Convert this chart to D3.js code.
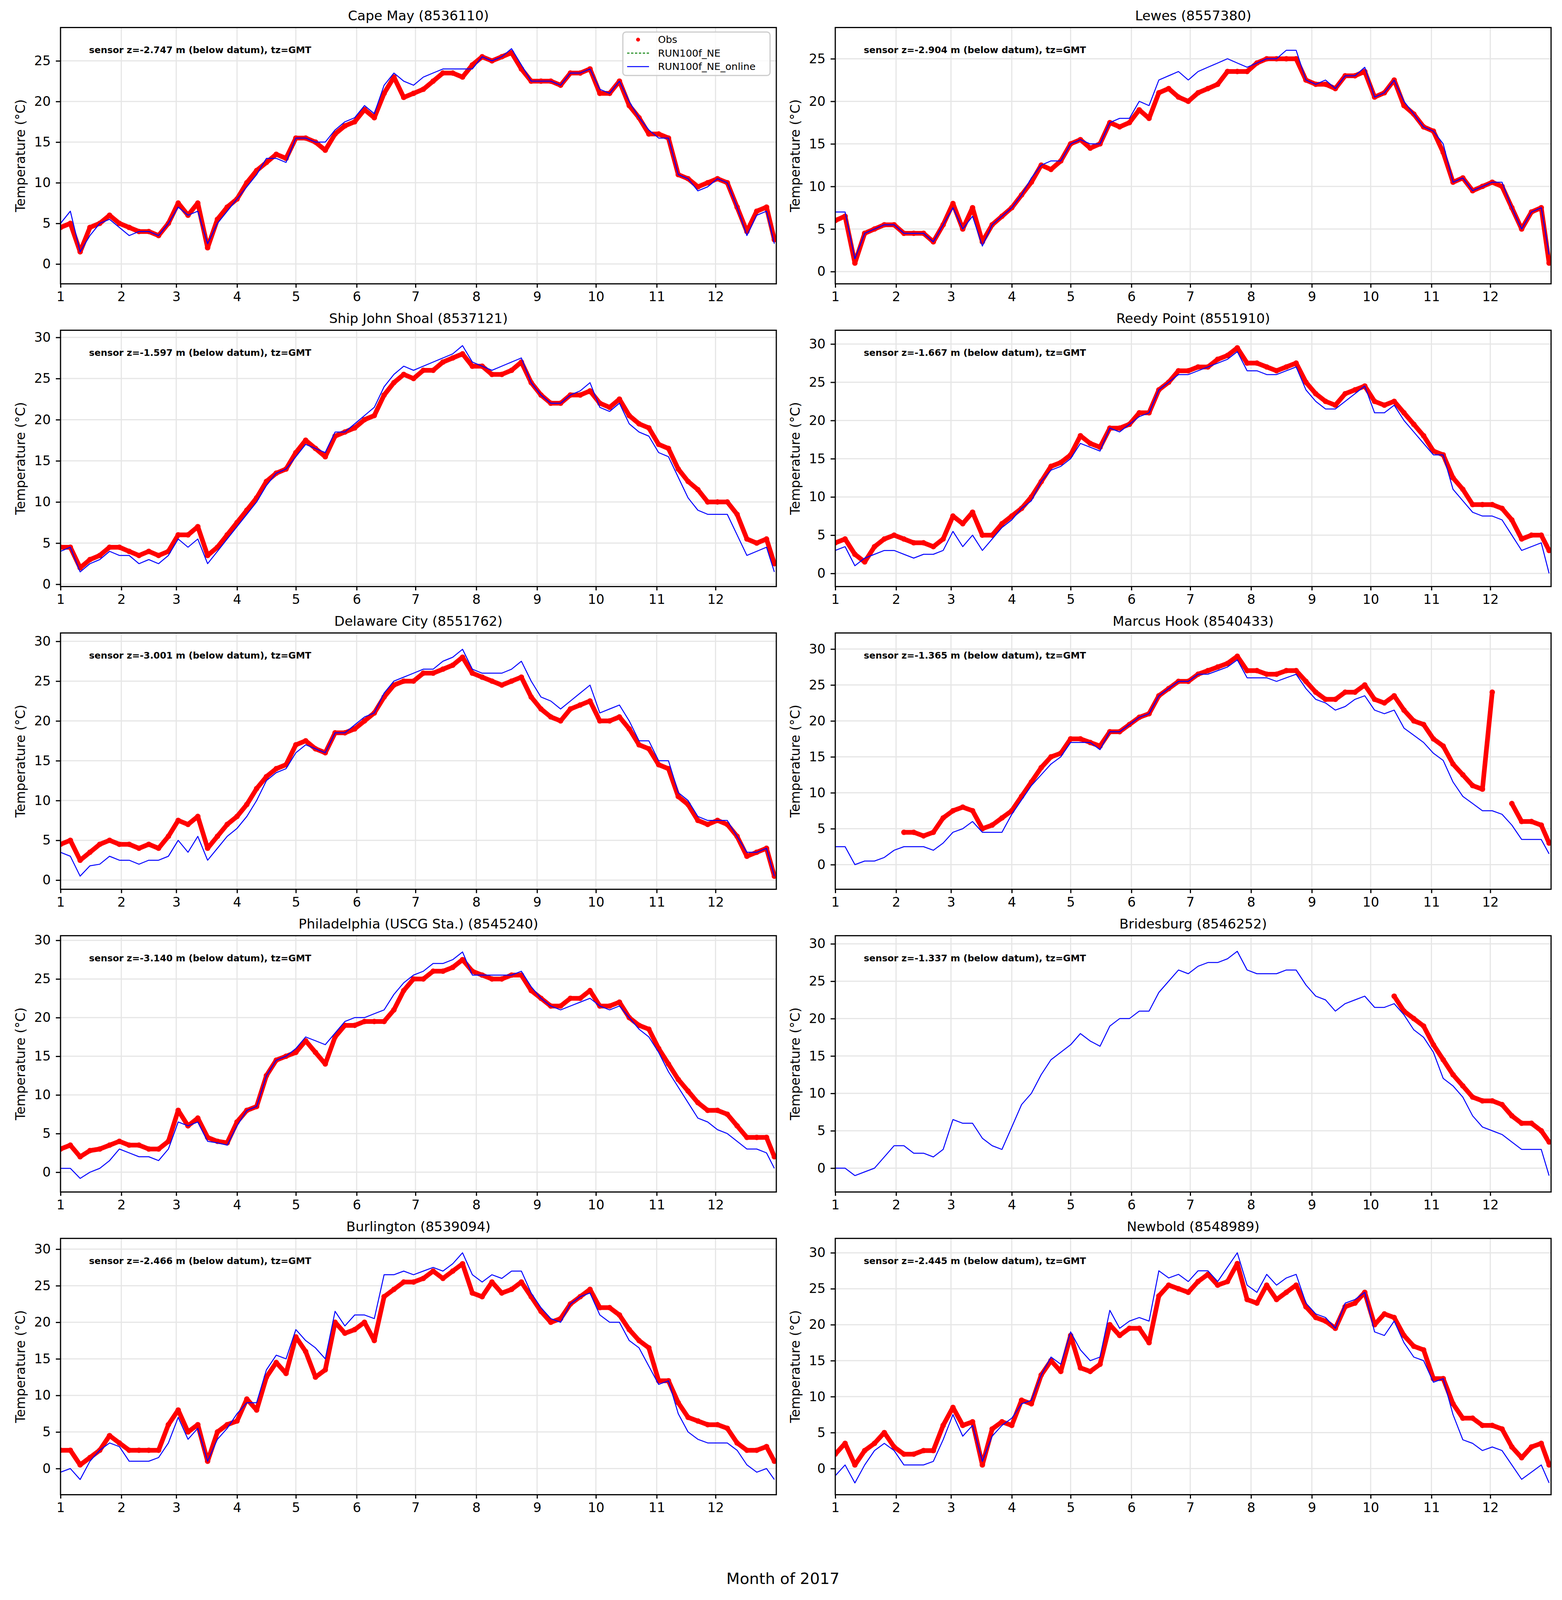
<!DOCTYPE html>
<html>
<head>
<meta charset="utf-8">
<script src="https://cdn.jsdelivr.net/npm/d3@7"></script>
<style>
  html, body { margin: 0; padding: 0; background: #fff; overflow: hidden; }
  svg { display: block; }
</style>
</head>
<body>
<div id="fig"></div>
<script>
const days = d3.range(0, 361, 5).concat([364]);
const monthStarts = [0, 31, 59, 90, 120, 151, 181, 212, 243, 273, 304, 334];
const monthLabels = ["1", "2", "3", "4", "5", "6", "7", "8", "9", "10", "11", "12"];

const stations = ["Cape May (8536110)", "Lewes (8557380)", "Ship John Shoal (8537121)", "Reedy Point (8551910)",
  "Delaware City (8551762)", "Marcus Hook (8540433)", "Philadelphia (USCG Sta.) (8545240)", "Bridesburg (8546252)",
  "Burlington (8539094)", "Newbold (8548989)"];
const sensorZ = ["-2.747", "-2.904", "-1.597", "-1.667", "-3.001", "-1.365", "-3.140", "-1.337", "-2.466", "-2.445"];
const yLims = [[-2.44, 29.1], [-1.44, 28.67], [-0.28, 30.87], [-1.72, 31.8], [-1.15, 31.05],
  [-3.43, 32.24], [-2.56, 30.6], [-3.19, 31.09], [-3.58, 31.47], [-3.64, 32.0]];
const legendLabels = ["Obs", "RUN100f_NE", "RUN100f_NE_online"];

// observed temperature (degC), one value per entry of days
const obsCapeMay = [
  4.5,5.0,1.5,4.5,5.0,6.0,5.0,4.5,4.0,4.0,
  3.5,5.0,7.5,6.0,7.5,2.0,5.5,7.0,8.0,10.0,
  11.5,12.5,13.5,13.0,15.5,15.5,15.0,14.0,16.0,17.0,
  17.5,19.0,18.0,21.0,23.0,20.5,21.0,21.5,22.5,23.5,
  23.5,23.0,24.5,25.5,25.0,25.5,26.0,24.0,22.5,22.5,
  22.5,22.0,23.5,23.5,24.0,21.0,21.0,22.5,19.5,18.0,
  16.0,16.0,15.5,11.0,10.5,9.5,10.0,10.5,10.0,7.0,
  4.0,6.5,7.0,3.0];
const modCapeMay = [
  5.0,6.5,1.5,3.5,5.0,5.5,4.5,3.5,4.0,4.0,
  3.5,5.0,7.0,6.0,6.5,2.5,5.0,6.5,8.0,9.5,
  11.0,13.0,13.0,12.5,15.5,15.5,15.0,15.0,16.5,17.5,
  18.0,19.5,18.5,22.0,23.5,22.5,22.0,23.0,23.5,24.0,
  24.0,24.0,24.0,25.5,25.0,25.5,26.5,24.5,22.5,22.5,
  22.5,22.0,23.5,23.5,24.0,21.5,21.0,22.5,20.0,18.0,
  16.5,15.5,15.5,11.0,10.5,9.0,9.5,10.5,10.0,7.0,
  3.5,6.0,6.5,2.5];

const obsLewes = [
  6.0,6.5,1.0,4.5,5.0,5.5,5.5,4.5,4.5,4.5,
  3.5,5.5,8.0,5.0,7.5,3.5,5.5,6.5,7.5,9.0,
  10.5,12.5,12.0,13.0,15.0,15.5,14.5,15.0,17.5,17.0,
  17.5,19.0,18.0,21.0,21.5,20.5,20.0,21.0,21.5,22.0,
  23.5,23.5,23.5,24.5,25.0,25.0,25.0,25.0,22.5,22.0,
  22.0,21.5,23.0,23.0,23.5,20.5,21.0,22.5,19.5,18.5,
  17.0,16.5,14.0,10.5,11.0,9.5,10.0,10.5,10.0,7.5,
  5.0,7.0,7.5,1.0];
const modLewes = [
  7.0,7.0,1.5,4.5,5.0,5.5,5.5,4.5,4.5,4.5,
  3.5,5.5,7.5,5.0,6.5,3.0,5.5,6.5,7.5,9.0,
  11.0,12.5,13.0,13.0,15.0,15.5,15.0,15.0,17.5,18.0,
  18.0,20.0,19.5,22.5,23.0,23.5,22.5,23.5,24.0,24.5,
  25.0,24.5,24.0,24.5,25.0,25.0,26.0,26.0,22.5,22.0,
  22.5,21.5,23.0,23.0,24.0,20.5,21.0,22.5,20.0,18.5,
  17.0,16.5,15.0,10.5,11.0,9.5,10.0,10.5,10.5,7.5,
  5.0,7.0,7.5,2.0];

const obsShipJohn = [
  4.5,4.5,2.0,3.0,3.5,4.5,4.5,4.0,3.5,4.0,
  3.5,4.0,6.0,6.0,7.0,3.5,4.5,6.0,7.5,9.0,
  10.5,12.5,13.5,14.0,16.0,17.5,16.5,15.5,18.0,18.5,
  19.0,20.0,20.5,23.0,24.5,25.5,25.0,26.0,26.0,27.0,
  27.5,28.0,26.5,26.5,25.5,25.5,26.0,27.0,24.5,23.0,
  22.0,22.0,23.0,23.0,23.5,22.0,21.5,22.5,20.5,19.5,
  19.0,17.0,16.5,14.0,12.5,11.5,10.0,10.0,10.0,8.5,
  5.5,5.0,5.5,2.5];
const modShipJohn = [
  4.0,4.5,1.5,2.5,3.0,4.0,3.5,3.5,2.5,3.0,
  2.5,3.5,5.5,4.5,5.5,2.5,4.0,5.5,7.0,8.5,
  10.0,12.0,13.5,14.0,15.5,17.0,16.5,16.0,18.5,18.5,
  19.5,20.5,21.5,24.0,25.5,26.5,26.0,26.5,27.0,27.5,
  28.0,29.0,27.0,26.5,26.0,26.5,27.0,27.5,24.5,23.0,
  22.0,22.0,23.0,23.5,24.5,21.5,21.0,22.0,19.5,18.5,
  18.0,16.0,15.5,13.0,10.5,9.0,8.5,8.5,8.5,6.0,
  3.5,4.0,4.5,1.5];

const obsReedy = [
  4.0,4.5,2.5,1.5,3.5,4.5,5.0,4.5,4.0,4.0,
  3.5,4.5,7.5,6.5,8.0,5.0,5.0,6.5,7.5,8.5,
  10.0,12.0,14.0,14.5,15.5,18.0,17.0,16.5,19.0,19.0,
  19.5,21.0,21.0,24.0,25.0,26.5,26.5,27.0,27.0,28.0,
  28.5,29.5,27.5,27.5,27.0,26.5,27.0,27.5,25.0,23.5,
  22.5,22.0,23.5,24.0,24.5,22.5,22.0,22.5,21.0,19.5,
  18.0,16.0,15.5,12.5,11.0,9.0,9.0,9.0,8.5,7.0,
  4.5,5.0,5.0,3.0];
const modReedy = [
  3.0,3.5,1.0,2.0,2.5,3.0,3.0,2.5,2.0,2.5,
  2.5,3.0,5.5,3.5,5.0,3.0,4.5,6.0,7.0,8.5,
  9.5,12.0,13.5,14.0,15.0,17.0,16.5,16.0,19.0,18.5,
  19.5,20.5,21.0,24.0,25.0,26.0,26.0,26.5,27.0,27.5,
  28.0,29.0,26.5,26.5,26.0,26.0,26.5,27.0,24.0,22.5,
  21.5,21.5,22.5,23.5,24.5,21.0,21.0,22.0,20.0,18.5,
  17.0,15.5,15.5,11.0,9.5,8.0,7.5,7.5,7.0,5.0,
  3.0,3.5,4.0,0.0];

const obsDelCity = [
  4.5,5.0,2.5,3.5,4.5,5.0,4.5,4.5,4.0,4.5,
  4.0,5.5,7.5,7.0,8.0,4.0,5.5,7.0,8.0,9.5,
  11.5,13.0,14.0,14.5,17.0,17.5,16.5,16.0,18.5,18.5,
  19.0,20.0,21.0,23.0,24.5,25.0,25.0,26.0,26.0,26.5,
  27.0,28.0,26.0,25.5,25.0,24.5,25.0,25.5,23.0,21.5,
  20.5,20.0,21.5,22.0,22.5,20.0,20.0,20.5,19.0,17.0,
  16.5,14.5,14.0,10.5,9.5,7.5,7.0,7.5,7.0,5.5,
  3.0,3.5,4.0,0.5];
const modDelCity = [
  3.5,3.0,0.5,1.8,2.0,3.0,2.5,2.5,2.0,2.5,
  2.5,3.0,5.0,3.5,5.5,2.5,4.0,5.5,6.5,8.0,
  10.0,12.5,13.5,14.0,16.0,17.0,16.5,16.0,18.5,18.5,
  19.5,20.5,21.0,23.5,25.0,25.5,26.0,26.5,26.5,27.5,
  28.0,29.0,26.5,26.0,26.0,26.0,26.5,27.5,25.0,23.0,
  22.5,21.5,22.5,23.5,24.5,21.0,21.5,22.0,20.0,17.5,
  17.5,15.0,15.0,11.0,10.0,8.0,7.5,7.5,7.5,5.5,
  3.5,3.5,4.0,0.5];

const obsMarcusHook = [
  null,null,null,null,null,null,null,4.5,4.5,4.0,
  4.5,6.5,7.5,8.0,7.5,5.0,5.5,6.5,7.5,9.5,
  11.5,13.5,15.0,15.5,17.5,17.5,17.0,16.5,18.5,18.5,
  19.5,20.5,21.0,23.5,24.5,25.5,25.5,26.5,27.0,27.5,
  28.0,29.0,27.0,27.0,26.5,26.5,27.0,27.0,25.5,24.0,
  23.0,23.0,24.0,24.0,25.0,23.0,22.5,23.5,21.5,20.0,
  19.5,17.5,16.5,14.0,12.5,11.0,10.5,24.0,null,8.5,
  6.0,6.0,5.5,3.0];
const modMarcusHook = [
  2.5,2.5,0.0,0.5,0.5,1.0,2.0,2.5,2.5,2.5,
  2.0,3.0,4.5,5.0,6.0,4.5,4.5,4.5,7.0,9.0,
  11.0,12.5,14.0,15.0,17.0,17.0,17.0,16.0,18.5,18.5,
  19.5,20.5,21.0,23.5,24.5,25.5,25.5,26.5,26.5,27.0,
  27.5,28.5,26.0,26.0,26.0,25.5,26.0,26.5,24.5,23.0,
  22.5,21.5,22.0,23.0,23.5,21.5,21.0,21.5,19.0,18.0,
  17.0,15.5,14.5,11.5,9.5,8.5,7.5,7.5,7.0,5.5,
  3.5,3.5,3.5,1.5];

const obsPhiladelphia = [
  3.0,3.5,2.0,2.8,3.0,3.5,4.0,3.5,3.5,3.0,
  3.0,4.0,8.0,6.0,7.0,4.5,4.0,3.8,6.5,8.0,
  8.5,12.5,14.5,15.0,15.5,17.0,15.5,14.0,17.5,19.0,
  19.0,19.5,19.5,19.5,21.0,23.5,25.0,25.0,26.0,26.0,
  26.5,27.5,26.0,25.5,25.0,25.0,25.5,25.5,23.5,22.5,
  21.5,21.5,22.5,22.5,23.5,21.5,21.5,22.0,20.0,19.0,
  18.5,16.0,14.0,12.0,10.5,9.0,8.0,8.0,7.5,6.0,
  4.5,4.5,4.5,2.0];
const modPhiladelphia = [
  0.5,0.5,-0.8,0.0,0.5,1.5,3.0,2.5,2.0,2.0,
  1.5,3.0,6.5,6.0,6.5,4.0,3.8,3.5,6.0,8.0,
  8.5,12.5,14.5,15.0,16.0,17.5,17.0,16.5,18.0,19.5,
  20.0,20.0,20.5,21.0,23.0,24.5,25.5,26.0,27.0,27.0,
  27.5,28.5,25.5,25.5,25.5,25.5,25.5,26.0,24.0,22.5,
  21.5,21.0,21.5,22.0,22.5,21.5,21.0,21.5,20.0,18.5,
  17.5,15.5,13.0,11.0,9.0,7.0,6.5,5.5,5.0,4.0,
  3.0,3.0,2.5,0.5];

const obsBridesburg = [
  null,null,null,null,null,null,null,null,null,null,
  null,null,null,null,null,null,null,null,null,null,
  null,null,null,null,null,null,null,null,null,null,
  null,null,null,null,null,null,null,null,null,null,
  null,null,null,null,null,null,null,null,null,null,
  null,null,null,null,null,null,null,23.0,21.0,20.0,
  19.0,16.5,14.5,12.5,11.0,9.5,9.0,9.0,8.5,7.0,
  6.0,6.0,5.0,3.5];
const modBridesburg = [
  0.0,0.0,-1.0,-0.5,0.0,1.5,3.0,3.0,2.0,2.0,
  1.5,2.5,6.5,6.0,6.0,4.0,3.0,2.5,5.5,8.5,
  10.0,12.5,14.5,15.5,16.5,18.0,17.0,16.3,19.0,20.0,
  20.0,21.0,21.0,23.5,25.0,26.5,26.0,27.0,27.5,27.5,
  28.0,29.0,26.5,26.0,26.0,26.0,26.5,26.5,24.5,23.0,
  22.5,21.0,22.0,22.5,23.0,21.5,21.5,22.0,20.5,18.5,
  17.5,15.5,12.0,11.0,9.5,7.0,5.5,5.0,4.5,3.5,
  2.5,2.5,2.5,-1.0];

const obsBurlington = [
  2.5,2.5,0.5,1.5,2.5,4.5,3.5,2.5,2.5,2.5,
  2.5,6.0,8.0,5.0,6.0,1.0,5.0,6.0,6.5,9.5,
  8.0,12.5,14.5,13.0,18.0,16.0,12.5,13.5,20.0,18.5,
  19.0,20.0,17.5,23.5,24.5,25.5,25.5,26.0,27.0,26.0,
  27.0,28.0,24.0,23.5,25.5,24.0,24.5,25.5,23.5,21.5,
  20.0,20.5,22.5,23.5,24.5,22.0,22.0,21.0,19.0,17.5,
  16.5,12.0,12.0,9.0,7.0,6.5,6.0,6.0,5.5,3.5,
  2.5,2.5,3.0,1.0];
const modBurlington = [
  -0.5,0.0,-1.5,1.0,2.5,3.5,3.0,1.0,1.0,1.0,
  1.5,3.5,7.0,4.0,5.5,1.0,4.0,5.5,7.5,9.0,
  9.0,13.5,15.5,15.0,19.0,17.5,16.5,15.0,21.5,19.5,
  21.0,21.0,20.5,26.5,26.5,27.0,26.5,27.0,27.5,27.0,
  28.0,29.5,26.5,25.5,26.5,26.0,27.0,27.0,24.0,22.0,
  20.5,20.0,22.5,23.5,24.0,21.0,20.0,20.0,17.5,16.5,
  14.0,11.5,12.0,7.5,5.0,4.0,3.5,3.5,3.5,2.5,
  0.5,-0.5,0.0,-1.5];

const obsNewbold = [
  2.0,3.5,0.5,2.5,3.5,5.0,3.0,2.0,2.0,2.5,
  2.5,6.0,8.5,6.0,6.5,0.5,5.5,6.5,6.0,9.5,
  9.0,13.0,15.0,13.5,18.5,14.0,13.5,14.5,20.0,18.5,
  19.5,19.5,17.5,24.0,25.5,25.0,24.5,26.0,27.0,25.5,
  26.0,28.5,23.5,23.0,25.5,23.5,24.5,25.5,22.5,21.0,
  20.5,19.5,22.5,23.0,24.5,20.0,21.5,21.0,18.5,17.0,
  16.5,12.5,12.5,9.0,7.0,7.0,6.0,6.0,5.5,3.0,
  1.5,3.0,3.5,0.5];
const modNewbold = [
  -1.0,0.5,-2.0,0.5,2.5,3.5,2.5,0.5,0.5,0.5,
  1.0,4.0,7.5,4.5,6.0,1.0,4.5,6.0,7.0,9.0,
  9.5,13.0,15.5,14.5,19.0,16.5,15.0,15.5,22.0,19.5,
  20.5,21.0,20.5,27.5,26.5,27.0,26.0,27.5,27.5,26.0,
  28.0,30.0,25.5,24.5,27.0,25.5,26.5,27.0,23.0,21.5,
  21.0,19.5,23.0,23.5,24.5,19.0,18.5,20.5,17.5,15.5,
  15.0,12.0,12.5,7.5,4.0,3.5,2.5,3.0,2.5,0.5,
  -1.5,-0.5,0.5,-2.0];

const obsSeries = [obsCapeMay, obsLewes, obsShipJohn, obsReedy, obsDelCity,
  obsMarcusHook, obsPhiladelphia, obsBridesburg, obsBurlington, obsNewbold];
const modSeries = [modCapeMay, modLewes, modShipJohn, modReedy, modDelCity,
  modMarcusHook, modPhiladelphia, modBridesburg, modBurlington, modNewbold];

// figure layout, designed on a 4000 x 5000 canvas; the window may be shorter,
// so vertical positions are scaled to fit (sy) and fonts a little (fs)
const W = 4000, H0 = 5000;
const H = Math.min(H0, window.innerHeight || H0);
const sy = H / H0;
const fs = Math.sqrt(sy);
const colX = [155, 2139];
const axW = 1833, axH = 801 * sy;
const rowY0 = 86 * sy, rowStep = 946 * sy;
const font = "DejaVu Sans, sans-serif";

const svg = d3.select("#fig").append("svg")
  .attr("width", W)
  .attr("height", H)
  .style("background", "#fff")
  .attr("font-family", font);

const x = d3.scaleLinear().domain([0, 365]).range([0, axW]);

stations.forEach((name, i) => {
  const left = colX[i % 2], top = rowY0 + Math.floor(i / 2) * rowStep;
  const g = svg.append("g").attr("transform", `translate(${left},${top})`);
  const y = d3.scaleLinear().domain(yLims[i]).range([axH, 0]);
  const yTicks = d3.range(0, yLims[i][1], 5);

  // grid
  g.append("g").selectAll("line").data(monthStarts).join("line")
    .attr("x1", d => x(d)).attr("x2", d => x(d))
    .attr("y1", 0).attr("y2", axH)
    .attr("stroke", "#e6e6e6").attr("stroke-width", 3);
  g.append("g").selectAll("line").data(yTicks).join("line")
    .attr("x1", 0).attr("x2", axW)
    .attr("y1", d => y(d)).attr("y2", d => y(d))
    .attr("stroke", "#e6e6e6").attr("stroke-width", 3);

  g.append("clipPath").attr("id", "clip" + i)
    .append("rect").attr("width", axW).attr("height", axH);
  const plot = g.append("g").attr("clip-path", `url(#clip${i})`);

  const line = d3.line()
    .defined(d => d[1] != null)
    .x(d => x(d[0]))
    .y(d => y(d[1]));

  const obs = days.map((d, k) => [d, obsSeries[i][k]]);
  const mod = days.map((d, k) => [d, modSeries[i][k]]);

  // observations: dense red dots in the original, drawn as a thick dotted band
  plot.append("path")
    .datum(obs)
    .attr("fill", "none")
    .attr("stroke", "#ff0000")
    .attr("stroke-width", 12)
    .attr("stroke-linejoin", "round")
    .attr("stroke-linecap", "round")
    .attr("d", line);
  plot.append("g").selectAll("circle").data(obs.filter(d => d[1] != null)).join("circle")
    .attr("cx", d => x(d[0]))
    .attr("cy", d => y(d[1]))
    .attr("r", 7)
    .attr("fill", "#ff0000");

  // model (online run)
  plot.append("path")
    .datum(mod)
    .attr("fill", "none")
    .attr("stroke", "#0000ff")
    .attr("stroke-width", 2.5)
    .attr("stroke-linejoin", "round")
    .attr("d", line);

  // frame
  g.append("rect")
    .attr("width", axW).attr("height", axH)
    .attr("fill", "none").attr("stroke", "#000").attr("stroke-width", 3);

  // axes
  const xAxis = g.append("g")
    .attr("transform", `translate(0,${axH})`)
    .call(d3.axisBottom(x).tickValues(monthStarts).tickFormat((d, k) => monthLabels[k])
      .tickSize(12 * sy).tickPadding(13 * sy));
  const yAxis = g.append("g")
    .call(d3.axisLeft(y).tickValues(yTicks).tickFormat(d3.format("d")).tickSize(12).tickPadding(13));
  [xAxis, yAxis].forEach(a => {
    a.select(".domain").remove();
    a.attr("font-size", 37 * fs).attr("font-family", font);
    a.selectAll("line").attr("stroke-width", 3);
    a.selectAll("text").attr("fill", "#000");
  });

  // labels
  g.append("text")
    .attr("x", axW / 2).attr("y", -22 * sy)
    .attr("text-anchor", "middle")
    .attr("font-size", 38 * fs)
    .text(name);
  g.append("text")
    .attr("transform", `translate(-103,${axH / 2}) rotate(-90)`)
    .attr("text-anchor", "middle")
    .attr("dy", "0.35em")
    .attr("font-size", 37 * fs)
    .text("Temperature (°C)");
  g.append("text")
    .attr("x", 73).attr("y", 80 * sy)
    .attr("font-size", 26 * fs)
    .attr("font-weight", "bold")
    .text(`sensor z=${sensorZ[i]} m (below datum), tz=GMT`);

  // legend only in the first panel
  if (i === 0) {
    const lg = g.append("g").attr("transform", `translate(${1595 - left},${100 * sy - top})`);
    lg.append("rect")
      .attr("width", 377).attr("height", 136 * sy).attr("rx", 8)
      .attr("fill", "#fff").attr("fill-opacity", 0.8)
      .attr("stroke", "#cccccc").attr("stroke-width", 3);
    const rows = lg.selectAll("g").data(legendLabels).join("g")
      .attr("transform", (d, k) => `translate(0,${(24 + k * 42) * sy})`);
    rows.filter((d, k) => k === 0).append("circle")
      .attr("cx", 39).attr("cy", 0).attr("r", 5).attr("fill", "#ff0000");
    rows.filter((d, k) => k === 1).append("line")
      .attr("x1", 11).attr("x2", 67).attr("stroke", "#008000")
      .attr("stroke-width", 2.5).attr("stroke-dasharray", "6,4");
    rows.filter((d, k) => k === 2).append("line")
      .attr("x1", 11).attr("x2", 67).attr("stroke", "#0000ff").attr("stroke-width", 2.5);
    rows.append("text")
      .attr("x", 90).attr("dy", "0.35em")
      .attr("font-size", 28 * fs)
      .text(d => d);
  }
});

svg.append("text")
  .attr("x", 2005).attr("y", 4950 * sy)
  .attr("text-anchor", "middle")
  .attr("font-size", 44 * fs)
  .attr("font-family", font)
  .text("Month of 2017");
</script>
</body>
</html>
